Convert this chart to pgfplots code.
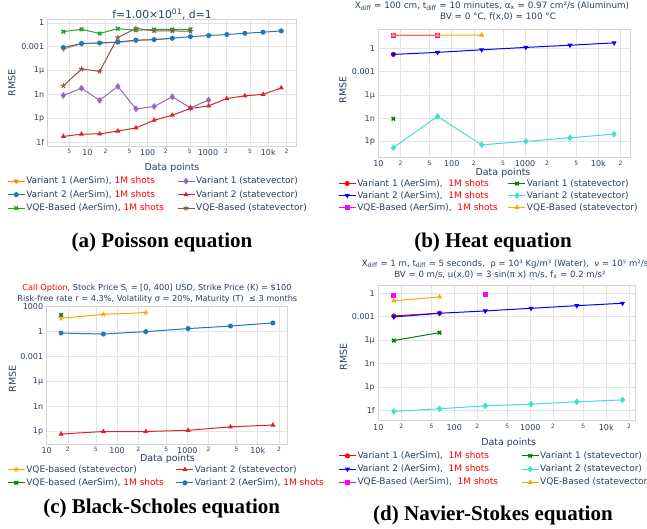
\documentclass[border=0pt]{standalone}
\usepackage{fontspec}
\setmainfont{DejaVu Sans}
\newfontfamily\capfont{Liberation Serif}
\usepackage{pgfplots}
\pgfplotsset{compat=1.18}
\definecolor{txt}{HTML}{2A3F5F}
\definecolor{gridc}{HTML}{E4E4E4}
\definecolor{framec}{HTML}{D4D4D4}
\definecolor{pOrange}{HTML}{FF7F0E}
\definecolor{pBlue}{HTML}{1F77B4}
\definecolor{pGreen}{HTML}{2CA02C}
\definecolor{pBrown}{HTML}{8C564B}
\definecolor{pPurple}{HTML}{9467BD}
\definecolor{pRed}{HTML}{D62728}
\definecolor{cRed}{HTML}{FF0000}
\definecolor{cBlue}{HTML}{0000FF}
\definecolor{cMag}{HTML}{FF00FF}
\definecolor{cGreen}{HTML}{008000}
\definecolor{cTurq}{HTML}{40E0D0}
\definecolor{cOrange}{HTML}{FFA500}
\newcommand\sm[1]{{\fontsize{6}{6}\selectfont #1}}
\newcommand\shots{\textcolor{cRed}{1M shots}}
\pgfplotsset{
 myPanel/.style={
  scale only axis, anchor=south west,
  axis line style={draw=framec, line width=0.6pt},
  grid=major, major grid style={draw=gridc, line width=0.6pt},
  major tick length=0pt, minor tick length=0pt,
  tick style={draw=none},
  ticklabel style={font=\fontsize{8}{9}\selectfont, text=txt},
  unbounded coords=jump,
  legend cell align=left,
  legend columns=2,
  legend style={draw=none, fill=none, inner sep=0pt, font=\fontsize{9}{10}\selectfont, text=txt, anchor=north west,
    nodes={inner sep=1pt, text height=7pt, text depth=2pt}},
 },
 myXA/.style={xtick={5,10,20,50,100,200,500,1000,2000,5000,10000,20000},
   xticklabels={\sm5,10,\sm2,\sm5,100,\sm2,\sm5,1000,\sm2,\sm5,10k,\sm2}},
 myXB/.style={xtick={10,20,50,100,200,500,1000,2000,5000,10000,20000},
   xticklabels={10,\sm2,\sm5,100,\sm2,\sm5,1000,\sm2,\sm5,10k,\sm2}},
}
\tikzset{
 myXmk/.style={mark=x, mark size=2.5pt, mark options={line width=1.5pt}},
 myTdown/.style={mark=triangle*, mark options={rotate=180}},
 myLine/.style={line width=1pt, mark size=2pt},
}
\begin{document}
\begin{tikzpicture}[x=1pt,y=1pt]
\path[use as bounding box] (0,0) rectangle (647,529);

% ---------------- (a) ----------------
\begin{loglogaxis}[myPanel, myXA, at={(47.7pt,383pt)}, width=248.3pt, height=127pt,
  xmin=2.2, xmax=28800, ymin=3.16e-16, ymax=3.16,
  ytick={1e-15,1e-12,1e-9,1e-6,1e-3,1}, yticklabels={1f,1p,1n,1µ,0.001,1},
  legend style={at={(axis description cs:-0.164,-0.232)}, row sep=2.5pt,
    /tikz/every even column/.append style={column sep=12pt}}]
\addplot[myLine, color=pOrange, myTdown] coordinates {(4,5e-4)(8,2.4e-3)(16,3e-3)(32,3.5e-3)(64,6e-3)(128,8e-3)(256,1.1e-2)};
\addlegendentry{Variant 1 (AerSim), \shots}
\addplot[myLine, color=pPurple, mark=diamond*, mark size=2.6pt] coordinates {(4,7.5e-10)(8,6e-9)(16,1.8e-10)(32,1e-8)(64,1.5e-11)(128,3e-11)(256,5e-10)(512,2e-11)(1024,2e-10)};
\addlegendentry{Variant 1 (statevector)}
\addplot[myLine, color=pBlue, mark=*] coordinates {(4,8e-4)(8,2.6e-3)(16,3e-3)(32,4e-3)(64,6.8e-3)(128,8e-3)(256,1.2e-2)(512,1.9e-2)(1024,2.6e-2)(2048,3.5e-2)(4096,5e-2)(8192,6.8e-2)(16384,1e-1)};
\addlegendentry{Variant 2 (AerSim), \shots}
\addplot[myLine, color=pRed, mark=triangle*] coordinates {(4,5e-15)(8,1e-14)(16,1.05e-14)(32,2.4e-14)(64,6e-14)(128,5.6e-13)(256,2.4e-12)(512,1.7e-11)(1024,3.5e-11)(2048,3e-10)(4096,6.6e-10)(8192,1e-9)(16384,6.6e-9)};
\addlegendentry{Variant 2 (statevector)}
\addplot[myLine, color=pGreen, myXmk] coordinates {(4,0.08)(8,0.16)(16,0.047)(32,0.19)(64,0.12)(128,0.15)(256,0.15)(512,0.16)};
\addlegendentry{VQE-Based (AerSim), \shots}
\addplot[myLine, color=pBrown, mark=star, mark size=2.6pt, mark options={line width=1pt}] coordinates {(4,1.2e-8)(8,1.6e-6)(16,8e-7)(32,0.015)(64,0.21)(128,0.1)(256,0.1)(512,0.09)};
\addlegendentry{VQE-Based (statevector)}
\end{loglogaxis}

% ---------------- (b) ----------------
\begin{loglogaxis}[myPanel, myXB, at={(378.4pt,371.7pt)}, width=251.6pt, height=128.3pt,
  xmin=10, xmax=27000, ymin=1e-14, ymax=316,
  ytick={1e-12,1e-9,1e-6,1e-3,1}, yticklabels={1p,1n,1µ,0.001,1},
  legend style={at={(axis description cs:-0.1606,-0.160)}, row sep=1pt,
    /tikz/every even column/.append style={column sep=9pt}}]
\addplot[myLine, color=cRed, mark=*] coordinates {(16,0.17)};
\addlegendentry{Variant 1 (AerSim),~ \shots}
\addplot[myLine, color=cGreen, myXmk] coordinates {(16,9e-10)};
\addlegendentry{Variant 1 (statevector)}
\addplot[myLine, color=cBlue, myTdown] coordinates {(16,0.17)(64,0.31)(256,0.67)(1024,1.35)(4096,2.6)(16384,5.2)};
\addlegendentry{Variant 2 (AerSim),~ \shots}
\addplot[myLine, color=cTurq, mark=diamond*, mark size=2.6pt] coordinates {(16,1.7e-13)(64,1.8e-9)(256,4e-13)(1024,1.1e-12)(4096,3.2e-12)(16384,9.6e-12)};
\addlegendentry{Variant 2 (statevector)}
\addplot[myLine, color=cMag, mark=square*] coordinates {(16,47)(64,47)};
\addlegendentry{VQE-Based (AerSim),~ \shots}
\addplot[myLine, color=cOrange, mark=triangle*] coordinates {(16,50)(64,50)(256,52)};
\addlegendentry{VQE-Based (statevector)}
\end{loglogaxis}

% ---------------- (c) ----------------
\begin{loglogaxis}[myPanel, myXB, at={(46.7pt,85pt)}, width=240.6pt, height=138pt,
  xmin=10, xmax=26300, ymin=3.16e-14, ymax=1200,
  ytick={1e-12,1e-9,1e-6,1e-3,1,1000}, yticklabels={1p,1n,1µ,0.001,1,1000},
  legend style={at={(axis description cs:-0.165,-0.1435)}, row sep=2.3pt,
    /tikz/every even column/.append style={column sep=11pt}}]
\addplot[myLine, color=cOrange, mark=star, mark size=2.6pt, mark options={line width=1pt}] coordinates {(16,40)(64,120)(256,195)};
\addlegendentry{VQE-based (statevector)}
\addplot[myLine, color=pRed, mark=triangle*] coordinates {(16,5e-13)(64,1e-12)(256,1e-12)(1024,1.4e-12)(4096,3.6e-12)(16384,6e-12)};
\addlegendentry{Variant 2 (statevector)}
\addplot[myLine, color=cGreen, myXmk] coordinates {(16,100)};
\addlegendentry{VQE-based (AerSim), \shots}
\addplot[myLine, color=pBlue, mark=*] coordinates {(16,0.68)(64,0.51)(256,1.0)(1024,2.3)(4096,4.7)(16384,11)};
\addlegendentry{Variant 2 (AerSim), \shots}
\end{loglogaxis}

% ---------------- (d) ----------------
\begin{loglogaxis}[myPanel, myXB, at={(378.3pt,108.3pt)}, width=256.7pt, height=135.7pt,
  xmin=10, xmax=23900, ymin=5e-17, ymax=11.5,
  ytick={1e-15,1e-12,1e-9,1e-6,1e-3,1}, yticklabels={1f,1p,1n,1µ,0.001,1},
  legend style={at={(axis description cs:-0.156,-0.217)}, row sep=2.3pt,
    /tikz/every even column/.append style={column sep=22pt}}]
\addplot[myLine, color=cRed, mark=*] coordinates {(16,1.26e-3)(64,2.8e-3)};
\addlegendentry{Variant 1 (AerSim),~ \shots}
\addplot[myLine, color=cGreen, myXmk] coordinates {(16,9e-7)(64,9.3e-6)};
\addlegendentry{Variant 1 (statevector)}
\addplot[myLine, color=cBlue, myTdown] coordinates {(16,9.4e-4)(64,2.8e-3)(256,5.5e-3)(1024,1.2e-2)(4096,2.6e-2)(16384,5.3e-2)};
\addlegendentry{Variant 2 (AerSim),~ \shots}
\addplot[myLine, color=cTurq, mark=diamond*, mark size=2.6pt] coordinates {(16,7.6e-16)(64,1.7e-15)(256,4e-15)(1024,6.6e-15)(4096,1.3e-14)(16384,2.3e-14)};
\addlegendentry{Variant 2 (statevector)}
\addplot[myLine, color=cMag, mark=square*] coordinates {(16,0.45)(64,nan)(256,0.67)};
\addlegendentry{VQE-Based (AerSim),~ \shots}
\addplot[myLine, color=cOrange, mark=triangle*] coordinates {(16,0.11)(64,0.34)};
\addlegendentry{VQE-Based (statevector)}
\end{loglogaxis}

% ---------------- texts ----------------
\begin{scope}[every node/.style={text=txt, font=\fontsize{9.5}{10}\selectfont}]
% (a)
\node[font=\fontsize{10.8}{12}\selectfont] at (162,514.5) {f=1.00×10\textsuperscript{01}, d=1};
\node[rotate=90] at (12,446) {RMSE};
\node at (172,361) {Data points};
% (b)
\node[font=\fontsize{8.8}{9}\selectfont] at (492,523) {X\textsubscript{diff} = 100 cm, t\textsubscript{diff} = 10 minutes, α\textsubscript{x} = 0.97 cm²/s (Aluminum)};
\node[font=\fontsize{8.8}{9}\selectfont] at (498,512) {BV = 0 °C, f(x,0) = 100 °C};
\node[rotate=90] at (343,439) {RMSE};
\node at (503,356.3) {Data points};
% (c)
\node[font=\fontsize{8.2}{9}\selectfont] at (157,240.7) {\textcolor{cRed}{Call Option}, Stock Price S\textsubscript{i} = [0, 400] USD, Strike Price (K) = \$100};
\node[font=\fontsize{8.2}{9}\selectfont] at (157.3,230) {Risk-free rate r = 4.3\%, Volatility σ = 20\%, Maturity (T) ~≤ 3 months};
\node[rotate=90] at (12.3,150) {RMSE};
\node at (167.5,70) {Data points};
% (d)
\node[font=\fontsize{8.6}{9}\selectfont] at (505,265) {X\textsubscript{diff} = 1 m, t\textsubscript{diff} = 5 seconds, ~ρ = 10³ Kg/m³ (Water), ~ν = 10⁵ m²/s};
\node[font=\fontsize{8.6}{9}\selectfont] at (500,254.3) {BV = 0 m/s, u(x,0) = 3·sin(π x) m/s, f\textsubscript{x} = 0.2 m/s²};
\node[rotate=90] at (343.3,172.3) {RMSE};
\node at (508.7,86.3) {Data points};
\end{scope}
% captions
\begin{scope}[every node/.style={font=\capfont\bfseries\fontsize{21}{24}\selectfont, text=black}]
\node at (162,287) {(a) Poisson equation};
\node at (493,287) {(b) Heat equation};
\node at (161.7,20.7) {(c) Black-Scholes equation};
\node at (493,14) {(d) Navier-Stokes equation};
\end{scope}
\end{tikzpicture}
\end{document}
